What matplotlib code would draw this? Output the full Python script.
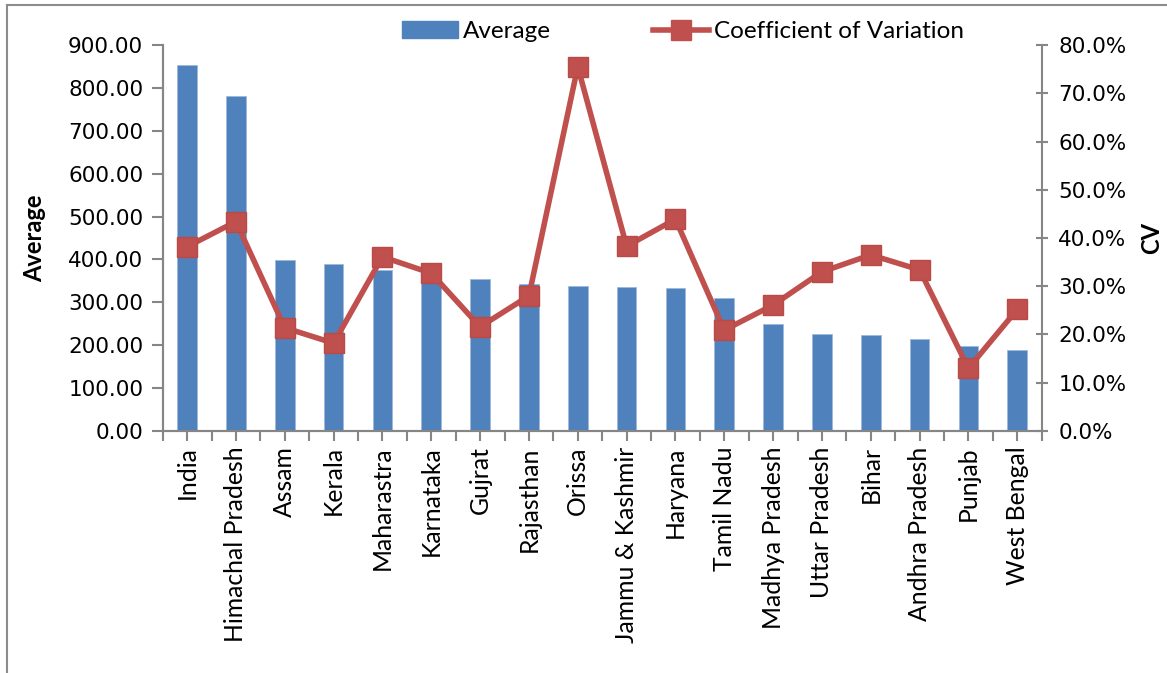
import numpy as np
import matplotlib.pyplot as plt
from matplotlib.lines import Line2D
from matplotlib.patches import Patch
from matplotlib.ticker import FuncFormatter, FixedLocator

# state-wise average and coefficient of variation
states = ['India', 'Himachal Pradesh', 'Assam', 'Kerala', 'Maharastra', 'Karnataka',
          'Gujrat', 'Rajasthan', 'Orissa', 'Jammu & Kashmir', 'Haryana', 'Tamil Nadu',
          'Madhya Pradesh', 'Uttar Pradesh', 'Bihar', 'Andhra Pradesh', 'Punjab', 'West Bengal']
average = [853, 781, 399, 389, 375, 355, 354, 343, 337, 336, 334, 309,
           250, 225, 223, 215, 198, 188]
cv = [38.2, 43.4, 21.4, 18.2, 36.1, 32.7, 21.6, 28.0, 75.5, 38.3, 43.9, 20.9,
      26.1, 33.0, 36.5, 33.4, 13.0, 25.2]

blue = '#4F81BD'
red = '#C0504D'
grey = '#868686'

fig = plt.figure(figsize=(11.67, 6.73), dpi=100)
ax = fig.add_axes([0.1394, 0.3596, 0.7532, 0.5735])
x = np.arange(len(states))

ax.bar(x, average, width=0.4, color=blue, edgecolor='#9DB9DC', linewidth=0.6, zorder=2)
ax.set_xlim(-0.5, len(states) - 0.5)
ax.set_ylim(0, 900)
ax.set_yticks(np.arange(0, 901, 100))
ax.yaxis.set_major_formatter(FuncFormatter(lambda v, p: '%.2f' % v))

ax2 = ax.twinx()
ax2.plot(x, cv, color=red, linewidth=4, marker='s', markersize=14,
         markerfacecolor=red, markeredgecolor='#B84A47', zorder=3)
ax2.set_ylim(0, 80)
ax2.set_yticks(np.arange(0, 81, 10))
ax2.yaxis.set_major_formatter(FuncFormatter(lambda v, p: '%.1f%%' % v))

# category ticks at centers, boundary ticks as minor
ax.set_xticks(x)
ax.set_xticklabels(states, rotation=90, fontsize=17.8, family='Lato')
ax.xaxis.set_minor_locator(FixedLocator(np.arange(-0.5, len(states), 1)))
ax.tick_params(axis='x', which='both', length=7, width=1.5, color=grey, direction='out', pad=4)
ax.tick_params(axis='y', length=8, width=1.5, color=grey, direction='out', labelsize=15.5, pad=6)
ax2.tick_params(axis='y', length=8, width=1.5, color=grey, direction='inout', labelsize=15.5, pad=8)
for lab in ax.get_yticklabels() + ax2.get_yticklabels():
    lab.set_family('DejaVu Sans')

for a in (ax, ax2):
    for s in a.spines.values():
        s.set_color(grey)
        s.set_linewidth(1.5)
    a.spines['top'].set_visible(False)
ax.spines['right'].set_visible(False)

ax.set_ylabel('Average', fontsize=17, fontweight='bold', family='Lato', labelpad=16)
ax2.set_ylabel('CV', fontsize=17, fontweight='bold', family='Lato', labelpad=10)

handles = [Patch(facecolor=blue, edgecolor=blue),
           Line2D([0], [0], color=red, linewidth=4, marker='s', markersize=14)]
fig.legend(handles, ['Average', 'Coefficient of Variation'], loc='center',
           bbox_to_anchor=(0.585, 0.953), ncol=2, frameon=False,
           prop={'family': 'Lato', 'size': 17.5}, handlelength=2.3,
           handletextpad=0.2, columnspacing=4.2)

# outer chart border (left and top only visible)
fig.add_artist(Line2D([7 / 1167, 7 / 1167], [0, 1 - 5 / 673], color='#8C8C8C',
                      linewidth=1.5, transform=fig.transFigure))
fig.add_artist(Line2D([7 / 1167, 1], [1 - 5 / 673, 1 - 5 / 673], color='#8C8C8C',
                      linewidth=1.5, transform=fig.transFigure))

fig.savefig('out.png', dpi=100)
